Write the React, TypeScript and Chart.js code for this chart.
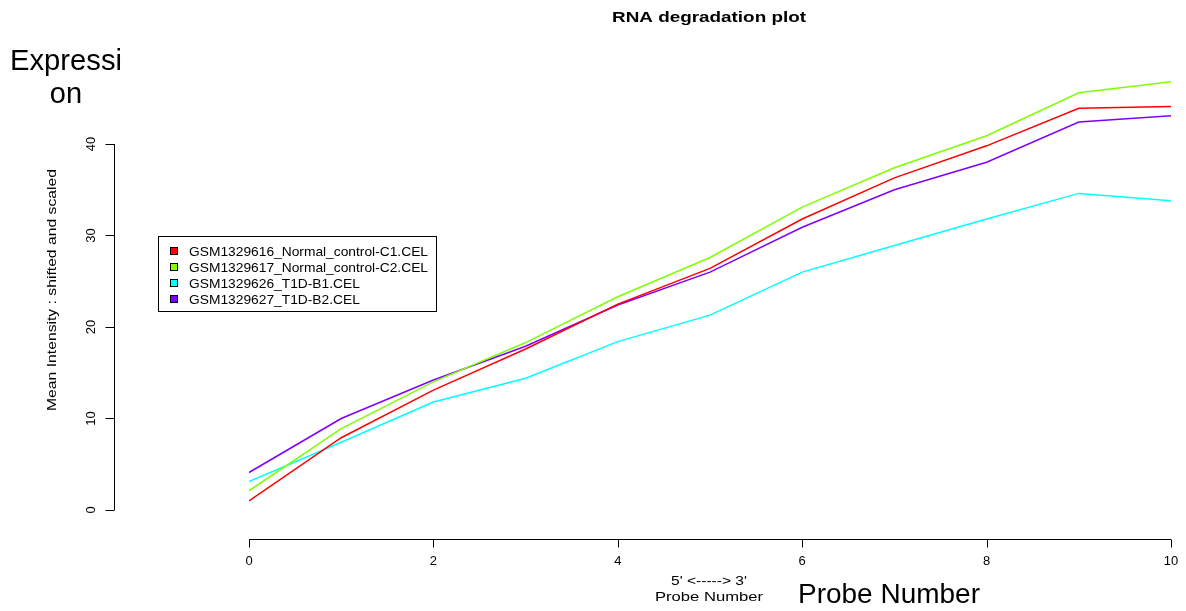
import React, { useEffect, useRef } from "react";
import { Chart, registerables } from "chart.js";

Chart.register(...registerables);

const probes = [0, 1, 2, 3, 4, 5, 6, 7, 8, 9, 10];
const sampleNames = [
  "GSM1329616_Normal_control-C1.CEL",
  "GSM1329617_Normal_control-C2.CEL",
  "GSM1329626_T1D-B1.CEL",
  "GSM1329627_T1D-B2.CEL",
];
const seriesC1 = [1.0, 7.9, 13.1, 17.6, 22.5, 26.4, 31.8, 36.3, 39.8, 43.9, 44.1];
const seriesC2 = [2.1, 8.9, 14.0, 18.3, 23.3, 27.6, 33.1, 37.4, 40.9, 45.6, 46.8];
const seriesB1 = [3.1, 7.4, 11.8, 14.4, 18.4, 21.3, 26.0, 28.9, 31.8, 34.6, 33.8];
const seriesB2 = [4.1, 10.0, 14.2, 17.9, 22.4, 26.0, 30.9, 35.0, 38.0, 42.4, 43.1];
const seriesColors = ["#FF0000", "#80FF00", "#00FFFF", "#8000FF"];
const xTicks = [0, 2, 4, 6, 8, 10];
const yTicks = [0, 10, 20, 30, 40];
const titleText = "RNA degradation plot";
const yTitle = "Mean Intensity : shifted and scaled";
const xTitleTop = "5' <-----> 3'";
const xTitleBottom = "Probe Number";
const noteYLines = ["Expressi", "on"];
const noteX = "Probe Number";

const FONT = "'Liberation Sans', Arial, Helvetica, sans-serif";

function fitText(
  ctx: CanvasRenderingContext2D,
  text: string,
  x: number,
  y: number,
  font: string,
  width: number | null,
  align: CanvasTextAlign,
  rotate = 0
) {
  ctx.save();
  ctx.font = font;
  ctx.textAlign = align;
  ctx.textBaseline = "alphabetic";
  ctx.translate(x, y);
  if (rotate) ctx.rotate(rotate);
  if (width) {
    const w = ctx.measureText(text).width;
    ctx.scale(width / w, 1);
  }
  ctx.fillText(text, 0, 0);
  ctx.restore();
}

const decorPlugin = {
  id: "rDecor",
  afterDraw(chart: any) {
    const ctx: CanvasRenderingContext2D = chart.ctx;
    const xs = chart.scales.x;
    const ys = chart.scales.y;
    const ca = chart.chartArea;
    ctx.save();
    ctx.strokeStyle = "#000";
    ctx.fillStyle = "#000";
    ctx.lineWidth = 1;

    // x axis
    const axY = Math.round(ca.bottom) + 0.5;
    const x0 = xs.getPixelForValue(xTicks[0]);
    const x1 = xs.getPixelForValue(xTicks[xTicks.length - 1]);
    ctx.beginPath();
    ctx.moveTo(x0, axY);
    ctx.lineTo(x1, axY);
    xTicks.forEach((t) => {
      const px = Math.round(xs.getPixelForValue(t)) + 0.5;
      ctx.moveTo(px, axY);
      ctx.lineTo(px, axY + 8);
    });
    ctx.stroke();
    xTicks.forEach((t) => {
      fitText(ctx, String(t), xs.getPixelForValue(t), axY + 25, `13px ${FONT}`, null, "center");
    });

    // y axis
    const axX = 114.5;
    const y0 = ys.getPixelForValue(yTicks[0]);
    const y1 = ys.getPixelForValue(yTicks[yTicks.length - 1]);
    ctx.beginPath();
    ctx.moveTo(axX, y0);
    ctx.lineTo(axX, y1);
    yTicks.forEach((t) => {
      const py = Math.round(ys.getPixelForValue(t)) + 0.5;
      ctx.moveTo(axX, py);
      ctx.lineTo(axX - 9, py);
    });
    ctx.stroke();
    yTicks.forEach((t) => {
      fitText(ctx, String(t), 95, ys.getPixelForValue(t), `13px ${FONT}`, null, "center", -Math.PI / 2);
    });

    // titles
    fitText(ctx, titleText, 709, 22, `bold 14px ${FONT}`, 194, "center");
    fitText(ctx, yTitle, 56, 290, `12px ${FONT}`, 242, "center", -Math.PI / 2);
    fitText(ctx, xTitleTop, 709, 585, `12px ${FONT}`, 76, "center");
    fitText(ctx, xTitleBottom, 709, 601, `12px ${FONT}`, 108, "center");

    // annotations
    fitText(ctx, noteYLines[0], 66, 70, `29px ${FONT}`, 112, "center");
    fitText(ctx, noteYLines[1], 66, 103, `29px ${FONT}`, null, "center");
    fitText(ctx, noteX, 798, 603, `27px ${FONT}`, 182, "left");

    // legend
    ctx.strokeRect(158.5, 236.5, 278, 75);
    ctx.font = `13px ${FONT}`;
    const sx = 239 / ctx.measureText(sampleNames[0]).width;
    sampleNames.forEach((name, i) => {
      const cy = 251 + i * 16;
      ctx.fillStyle = seriesColors[i];
      ctx.fillRect(170.5, cy - 3.5, 7, 7);
      ctx.strokeStyle = "#000";
      ctx.strokeRect(170.5, cy - 3.5, 7, 7);
      ctx.fillStyle = "#000";
      ctx.save();
      ctx.translate(189, cy + 4.5);
      ctx.scale(sx, 1);
      ctx.textAlign = "left";
      ctx.textBaseline = "alphabetic";
      ctx.fillText(name, 0, 0);
      ctx.restore();
    });

    ctx.restore();
  },
};

export default function App() {
  const ref = useRef<HTMLCanvasElement | null>(null);
  useEffect(() => {
    if (!ref.current) return;
    const allSeries = [seriesC1, seriesC2, seriesB1, seriesB2];
    const chart = new Chart(ref.current, {
      type: "line",
      data: {
        datasets: allSeries.map((s, i) => ({
          label: sampleNames[i],
          data: probes.map((p, j) => ({ x: p, y: s[j] })),
          borderColor: seriesColors[i],
          backgroundColor: seriesColors[i],
          borderWidth: 1.5,
          pointRadius: 0,
          tension: 0,
          fill: false,
        })),
      },
      options: {
        responsive: false,
        animation: false,
        devicePixelRatio: 1,
        layout: { padding: { left: 249, right: 15, top: 75, bottom: 72 } },
        plugins: {
          legend: { display: false },
          title: { display: false },
          tooltip: { enabled: false },
        },
        scales: {
          x: { type: "linear", min: 0, max: 10, display: false },
          y: { type: "linear", min: -3.17, max: 47.54, display: false },
        },
      },
      plugins: [decorPlugin],
    });
    return () => chart.destroy();
  }, []);
  return (
    <div style={{ position: "fixed", left: 0, top: 0, width: 1186, height: 611, background: "#fff" }}>
      <canvas ref={ref} width={1186} height={611} style={{ display: "block", width: 1186, height: 611 }} />
    </div>
  );
}
